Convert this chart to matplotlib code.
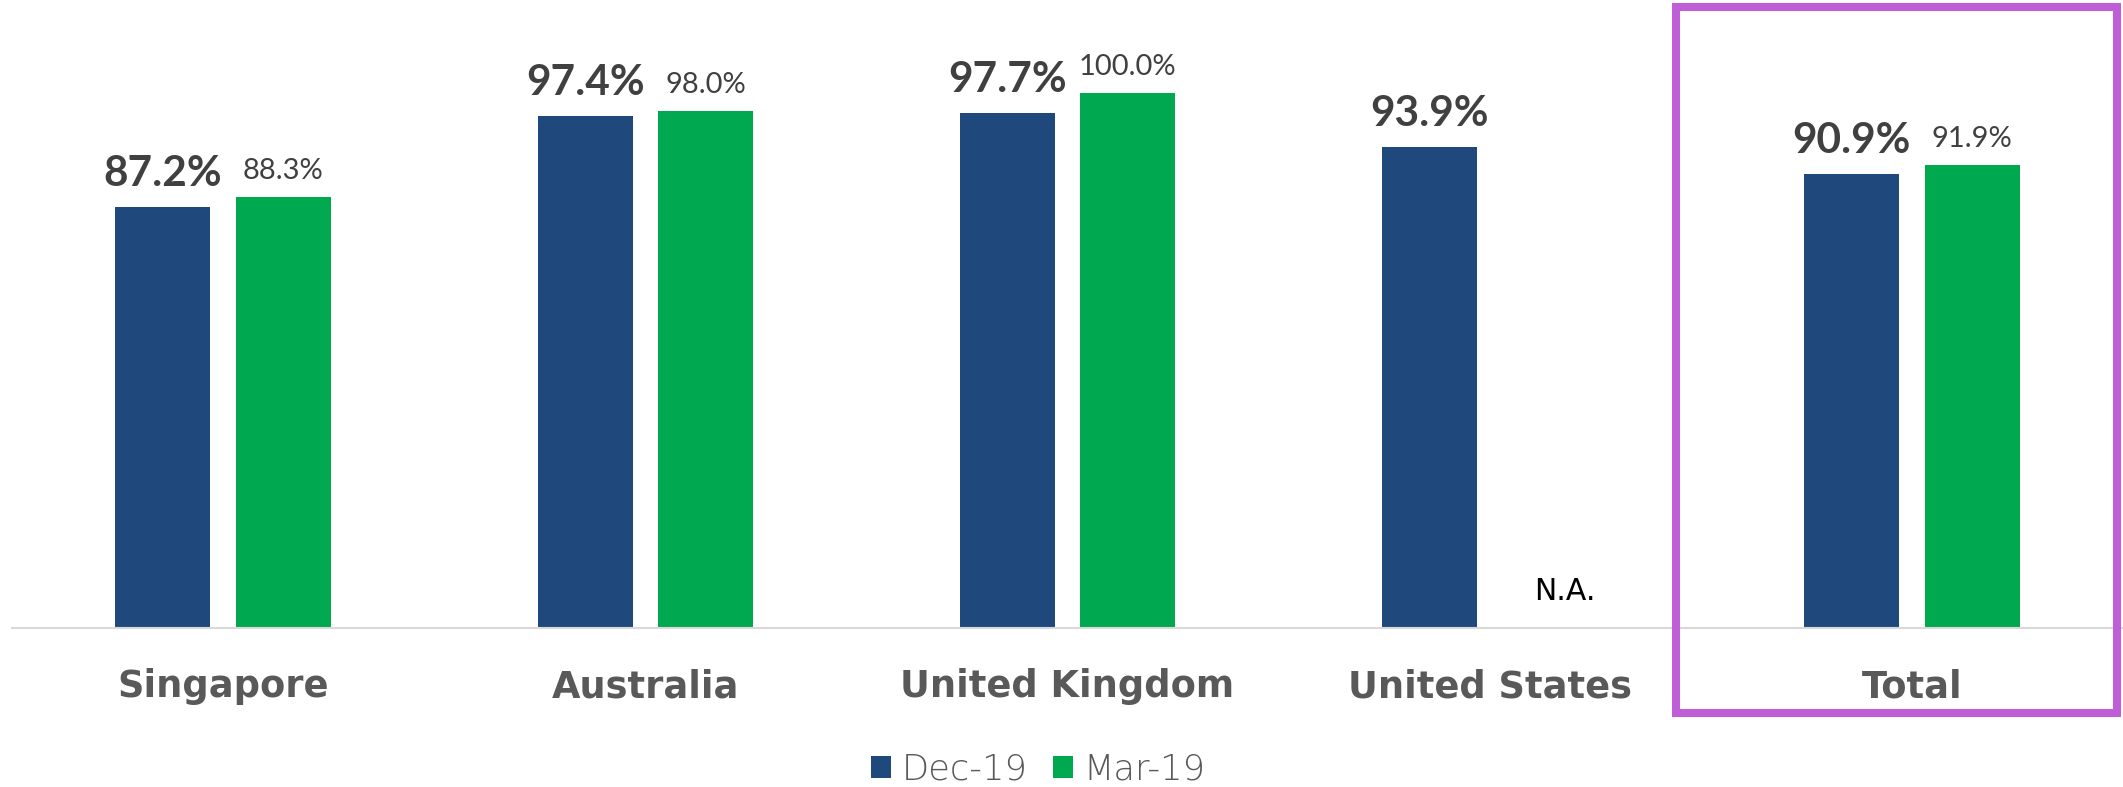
import numpy as np
import matplotlib
matplotlib.use("Agg")
import matplotlib.pyplot as plt
from matplotlib.patches import Rectangle

# data
countries = ["Singapore", "Australia", "United Kingdom", "United States", "Total"]
dec19 = [87.2, 97.4, 97.7, 93.9, 90.9]
mar19 = [88.3, 98.0, 100.0, np.nan, 91.9]
series_names = ["Dec-19", "Mar-19"]

DARK = "#1F497D"
GREEN = "#00A84F"
GREY_TXT = "#595959"
LABEL_TXT = "#404040"

fig = plt.figure(figsize=(21.23, 7.87), dpi=100)
ax = fig.add_axes([0.00565, 0.202, 0.99435, 0.798])

x = np.arange(len(countries))
w = 0.225
off = 0.1426

b1 = ax.bar(x - off, dec19, w, bottom=0, color=DARK, label=series_names[0])
b2 = ax.bar(x + off, mar19, w, bottom=0, color=GREEN, label=series_names[1])

ax.set_ylim(40, 110.4)
ax.set_xlim(-0.5, len(countries) - 0.5)

# value labels
for xi, v in zip(x - off, dec19):
    ax.annotate(f"{v:.1f}%", xy=(xi, v), xytext=(0, 15), textcoords="offset points",
                ha="center", va="baseline", fontsize=30.5, fontweight="bold",
                family="Lato", color=LABEL_TXT, annotation_clip=False)
for xi, v in zip(x + off, mar19):
    if np.isnan(v):
        ax.annotate("N.A.", xy=(xi, 40), xytext=(11, 20), textcoords="offset points",
                    ha="center", va="baseline", fontsize=21.5, family="DejaVu Sans",
                    color="black")
    else:
        ax.annotate(f"{v:.1f}%", xy=(xi, v), xytext=(0, 13), textcoords="offset points",
                    ha="center", va="baseline", fontsize=21, fontweight="normal",
                    family="Lato", color=LABEL_TXT, annotation_clip=False)

# category labels
for xi, name in zip(x, countries):
    ax.text(xi, -0.110, name, transform=ax.get_xaxis_transform(), ha="center",
            va="baseline", fontsize=26.5, fontweight="bold", family="DejaVu Sans",
            color=GREY_TXT)

ax.set_xticks([])
ax.set_yticks([])
for s in ["top", "right", "left"]:
    ax.spines[s].set_visible(False)
ax.spines["bottom"].set_color("#D9D9D9")
ax.spines["bottom"].set_linewidth(1.5)

# highlight box round "Total"
fig.patches.append(Rectangle((0.7894, 0.0934), 0.9972 - 0.7894, 0.9905 - 0.0934,
                             transform=fig.transFigure, fill=False,
                             edgecolor="#BE5FD8", linewidth=5.8))

leg = fig.legend(handles=[b1, b2], labels=series_names, loc="center",
                 bbox_to_anchor=(0.489, 0.022), ncol=2, frameon=False,
                 handlelength=0.58, handleheight=0.58, handletextpad=0.28,
                 columnspacing=0.72, borderpad=0,
                 prop={"family": "DejaVu Sans", "size": 25.5, "weight": "light"})
for t in leg.get_texts():
    t.set_color(GREY_TXT)

fig.savefig("out.png", dpi=100)
